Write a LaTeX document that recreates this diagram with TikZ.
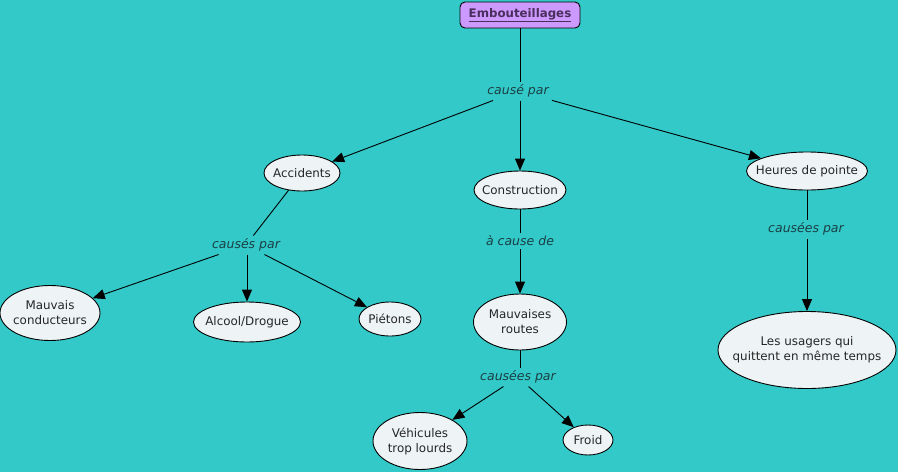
\documentclass[tikz,border=0pt]{standalone}
\usepackage{fontspec}
\setmainfont{DejaVu Sans}
\usetikzlibrary{shapes.geometric,arrows.meta}
\definecolor{bg}{HTML}{33C9C9}
\definecolor{nodefill}{HTML}{EEF4F6}
\definecolor{titlefill}{HTML}{CC99FF}
\definecolor{titletext}{HTML}{4A2E5C}
\definecolor{labeltext}{HTML}{1A3F44}
\tikzset{
  concept/.style={ellipse,draw=black,line width=0.9pt,fill=nodefill,inner xsep=-40pt,inner ysep=-20pt,align=center,
    text=black!85,font=\fontsize{11.9}{15}\selectfont},
  titlebox/.style={rectangle,rounded corners=5pt,draw=black,line width=0.9pt,fill=titlefill,
    minimum width=120pt,minimum height=26pt,inner sep=0pt,text=titletext,
    font=\fontsize{11.8}{14}\selectfont\bfseries},
  linklabel/.style={inner sep=3pt,text=labeltext,font=\fontsize{12.5}{15}\selectfont\itshape},
  plain/.style={draw=black,line width=0.9pt},
  arr/.style={draw=black,line width=0.9pt,-{Triangle[length=12pt,width=10pt]}}
}
\begin{document}
\begin{tikzpicture}[x=1pt,y=-1pt]
\fill[bg] (0,0) rectangle (898,472);
\useasboundingbox (0,0) rectangle (898,472);

\node[titlebox] (emb) at (520,15) {\underline{Embouteillages}};
\node[linklabel] (cp) at (518,91) {causé par};

\node[concept,minimum width=76pt,minimum height=36pt] (acc) at (302,173) {Accidents};
\node[concept,minimum width=92pt,minimum height=38pt] (con) at (520,190) {Construction};
\node[concept,minimum width=121pt,minimum height=38pt] (heu) at (807,171) {Heures de pointe};

\node[linklabel] (csp) at (246,245) {causés par};
\node[linklabel] (acd) at (520,241) {à cause de};
\node[linklabel] (cep1) at (806,229) {causées par};

\node[concept,minimum width=100pt,minimum height=55pt] (mc) at (50,313) {Mauvais\\conducteurs};
\node[concept,minimum width=107pt,minimum height=40pt] (ad) at (247,322) {Alcool/Drogue};
\node[concept,minimum width=62pt,minimum height=34pt] (pie) at (390,319) {Piétons};
\node[concept,minimum width=93pt,minimum height=56pt] (mr) at (520,322) {Mauvaises\\routes};
\node[concept,minimum width=178pt,minimum height=77pt] (usa) at (807,350) {Les usagers qui\\quittent en même temps};

\node[linklabel] (cep2) at (518,377) {causées par};
\node[concept,minimum width=94pt,minimum height=57pt] (veh) at (420,441) {Véhicules\\trop lourds};
\node[concept,minimum width=50pt,minimum height=30pt] (fro) at (588,440) {Froid};

\draw[plain] (emb) -- (emb |- cp.north);
\draw[arr] (cp) -- (acc);
\draw[arr] (cp.south -| con) -- (con);
\draw[arr] (cp) -- (heu);

\draw[plain] (acc) -- (csp);
\draw[arr] (csp) -- (mc);
\draw[arr] (csp.south -| ad) -- (ad);
\draw[arr] (csp) -- (pie);

\draw[plain] (con) -- (acd);
\draw[arr] (acd) -- (mr);

\draw[plain] (heu) -- (heu |- cep1.north);
\draw[arr] (cep1.south -| usa) -- (usa);

\draw[plain] (mr) -- (mr |- cep2.north);
\draw[arr] (cep2) -- (veh);
\draw[arr] (cep2) -- (fro);
\end{tikzpicture}
\end{document}
